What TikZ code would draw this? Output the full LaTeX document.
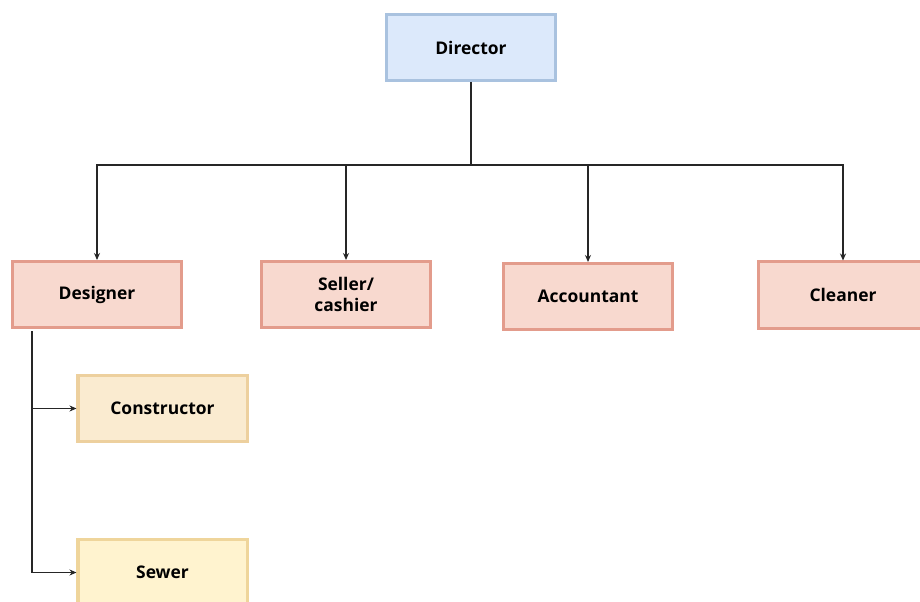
\documentclass[tikz,border=0pt]{standalone}
\usepackage{fontspec}
\setmainfont{Open Sans}
\usetikzlibrary{arrows.meta}

\definecolor{bossfill}{HTML}{DCE9FB}
\definecolor{bossline}{HTML}{A9C2DF}
\definecolor{stafffill}{HTML}{F8D9CF}
\definecolor{staffline}{HTML}{E39C8C}
\definecolor{helpfill}{HTML}{FAEBD0}
\definecolor{helpline}{HTML}{EDD09E}
\definecolor{sewfill}{HTML}{FFF3CF}
\definecolor{sewline}{HTML}{EFD59B}

\tikzset{
  post/.style={draw, line width=3bp, minimum width=169bp, minimum height=66bp,
    align=center, font=\bfseries\fontsize{17.5}{22}\selectfont},
  boss/.style={post, fill=bossfill, draw=bossline},
  staff/.style={post, fill=stafffill, draw=staffline},
  helper/.style={post, fill=helpfill, draw=helpline},
  sewing/.style={post, fill=sewfill, draw=sewline},
  link/.style={line width=1.6bp, draw=black!85},
  tip/.style={link, -{Stealth[length=7bp,width=6bp]}}
}

\begin{document}
\begin{tikzpicture}[x=1bp, y=-1bp]

\clip (0,0) rectangle (920,602);
\fill[white] (0,0) rectangle (920,602);

\node [boss](director) at (471,47.5) {Director};

\node [staff](designer) at (97,294.5) {Designer};
\node [staff](seller) at (346,294.5) {Seller/\\cashier};
\node [staff](accountant) at (588,296.5) {Accountant};
\node [staff](cleaner) at (843,295) {Cleaner};

\node [helper](constructor) at (162.5,408.5) {Constructor};
\node [sewing](sewer) at (162.5,572.5) {Sewer};

\coordinate (split) at (471,165);
\coordinate (trunk) at (32,331);

\draw [link] (director.south) -- (split);
\draw [tip] (split) -| (designer.north);
\draw [tip] (split) -| (seller.north);
\draw [tip] (split) -| (accountant.north);
\draw [tip] (split) -| (cleaner.north);

\draw [tip] (trunk) |- (constructor.west);
\draw [tip] (trunk) |- (sewer.west);
\end{tikzpicture}
\end{document}
